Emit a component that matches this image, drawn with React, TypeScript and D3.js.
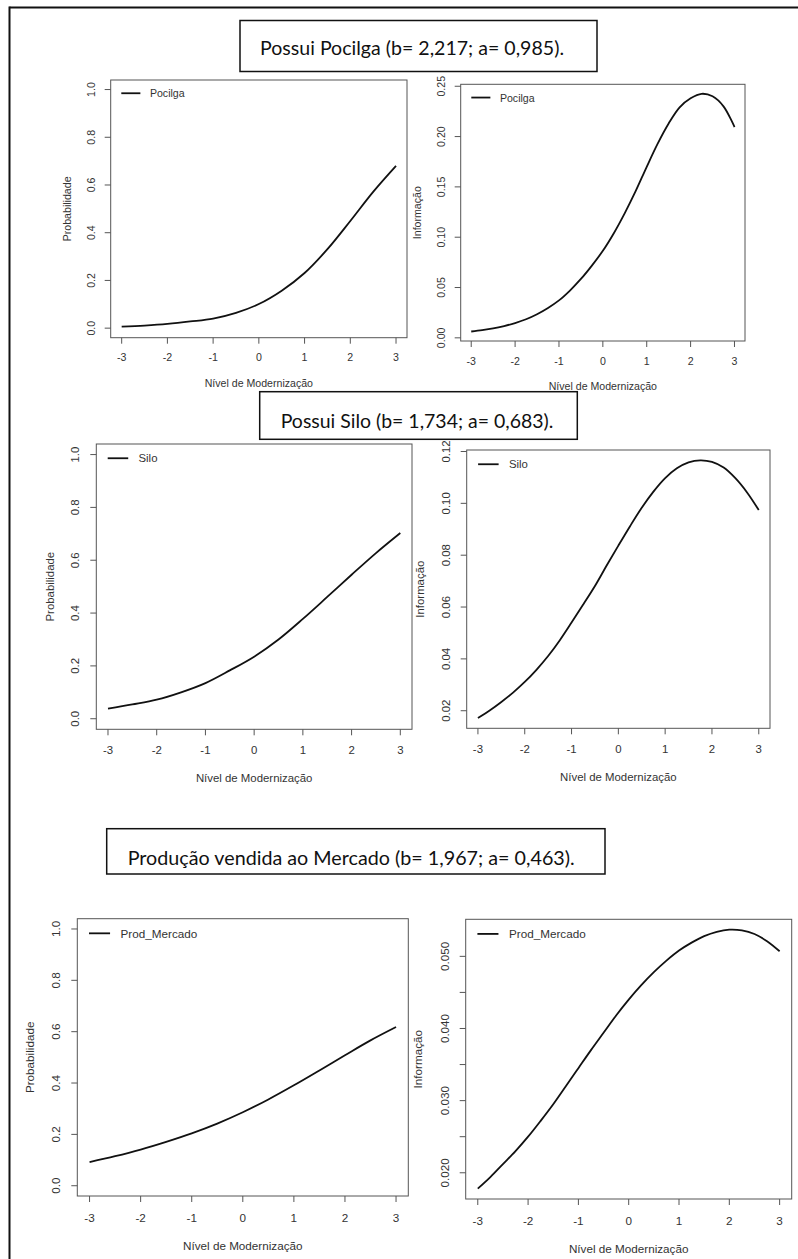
import React from "react";
import * as d3 from "d3";

// ability levels (theta)
const thetaHalf = [-3, -2.5, -2, -1.5, -1, -0.5, 0, 0.5, 1, 1.5, 2, 2.5, 3];
const thetaQuarter = [
  -3, -2.75, -2.5, -2.25, -2, -1.75, -1.5, -1.25, -1, -0.75, -0.5, -0.25, 0,
  0.25, 0.5, 0.75, 1, 1.25, 1.5, 1.75, 2, 2.25, 2.5, 2.75, 3,
];

// probability curves
const pocilgaProb = [0.006, 0.011, 0.018, 0.028, 0.04, 0.064, 0.101, 0.157, 0.231, 0.331, 0.449, 0.571, 0.68];
const siloProb = [0.038, 0.054, 0.072, 0.1, 0.135, 0.183, 0.235, 0.3, 0.378, 0.461, 0.545, 0.627, 0.703];
const mercadoProb = [0.092, 0.115, 0.141, 0.171, 0.204, 0.242, 0.286, 0.336, 0.391, 0.449, 0.508, 0.566, 0.618];

// information curves
const pocilgaInfo = [
  0.0063, 0.0076, 0.0093, 0.0117, 0.0147, 0.0185, 0.0235, 0.0297, 0.0372, 0.047, 0.0585, 0.0718, 0.0865,
  0.104, 0.124, 0.146, 0.17, 0.193, 0.213, 0.229, 0.238, 0.2425, 0.24, 0.23, 0.2095,
];
const siloInfo = [
  0.0172, 0.0201, 0.0234, 0.027, 0.0311, 0.0358, 0.0411, 0.0472, 0.054, 0.061, 0.0681, 0.076, 0.0837,
  0.0912, 0.0983, 0.1045, 0.1097, 0.1135, 0.1158, 0.1166, 0.116, 0.1138, 0.1097, 0.1042, 0.0974,
];
const mercadoInfo = [
  0.0178, 0.0194, 0.0212, 0.023, 0.025, 0.0272, 0.0295, 0.032, 0.0345, 0.037, 0.0394, 0.0418, 0.044,
  0.046, 0.0478, 0.0494, 0.0508, 0.0519, 0.0528, 0.0534, 0.0537, 0.0536, 0.0531, 0.0521, 0.0507,
];

// ticks
const xTicks = [-3, -2, -1, 0, 1, 2, 3];
const probTicks = [0, 0.2, 0.4, 0.6, 0.8, 1];
const pocilgaInfoTicks = [0, 0.05, 0.1, 0.15, 0.2, 0.25];
const siloInfoTicks = [0.02, 0.04, 0.06, 0.08, 0.1, 0.12];
const mercadoInfoTicks = [0.02, 0.025, 0.03, 0.035, 0.04, 0.045, 0.05];
const mercadoInfoLabelled = [0.02, 0.03, 0.04, 0.05];

const titles = [
  "Possui Pocilga (b= 2,217; a= 0,985).",
  "Possui Silo (b= 1,734; a= 0,683).",
  "Produção vendida ao Mercado (b= 1,967; a= 0,463).",
];

const xTitle = "Nível de Modernização";
const TEXT = "#333";

type Box = { x0: number; y0: number; x1: number; y1: number };

// R-style 4% padding of a range
const pad = (lo: number, hi: number): [number, number] => {
  const d = (hi - lo) * 0.04;
  return [lo - d, hi + d];
};

function Panel(props: {
  box: Box;
  fs: number;
  xs: number[];
  ys: number[];
  yLim: [number, number];
  yTicks: number[];
  yLabelled?: number[];
  digits: number;
  yTitle: string;
  legend: string;
}) {
  const { box, fs, xs, ys, yLim, yTicks, digits, yTitle, legend } = props;
  const labelled = props.yLabelled ?? yTicks;
  const x = d3.scaleLinear().domain(pad(-3, 3)).range([box.x0, box.x1]);
  const y = d3.scaleLinear().domain(pad(yLim[0], yLim[1])).range([box.y1, box.y0]);
  const line = d3
    .line<number>()
    .x((_, i) => x(xs[i]))
    .y((d) => y(d))
    .curve(d3.curveCatmullRom.alpha(0.5));
  const tick = 6;
  const cx = (box.x0 + box.x1) / 2;
  const cy = (box.y0 + box.y1) / 2;
  const lx0 = box.x0 + fs;
  const lx1 = lx0 + 1.8 * fs;
  const ly = box.y0 + 1.25 * fs;
  return (
    <g fontFamily="'Liberation Sans', Arial, sans-serif" fontSize={fs} fill={TEXT}>
      <rect x={box.x0} y={box.y0} width={box.x1 - box.x0} height={box.y1 - box.y0} fill="none" stroke="#555" strokeWidth={1} />
      {xTicks.map((t) => (
        <g key={"x" + t}>
          <line x1={x(t)} x2={x(t)} y1={box.y1} y2={box.y1 + tick} stroke="#555" />
          <text x={x(t)} y={box.y1 + 1.85 * fs} textAnchor="middle" dominantBaseline="central">
            {t}
          </text>
        </g>
      ))}
      {yTicks.map((t) => (
        <line key={"y" + t} x1={box.x0 - tick} x2={box.x0} y1={y(t)} y2={y(t)} stroke="#555" />
      ))}
      {labelled.map((t) => (
        <text
          key={"yl" + t}
          x={box.x0 - 1.85 * fs}
          y={y(t)}
          textAnchor="middle"
          dominantBaseline="central"
          transform={`rotate(-90, ${box.x0 - 1.85 * fs}, ${y(t)})`}
        >
          {t.toFixed(digits)}
        </text>
      ))}
      <text x={cx} y={box.y1 + 4.25 * fs} textAnchor="middle" dominantBaseline="central">
        {xTitle}
      </text>
      <text
        x={box.x0 - 4.1 * fs}
        y={cy}
        textAnchor="middle"
        dominantBaseline="central"
        transform={`rotate(-90, ${box.x0 - 4.1 * fs}, ${cy})`}
      >
        {yTitle}
      </text>
      <line x1={lx0} x2={lx1} y1={ly} y2={ly} stroke="#111" strokeWidth={1.8} />
      <text x={lx1 + 0.9 * fs} y={ly} dominantBaseline="central">
        {legend}
      </text>
      <path d={line(ys) ?? ""} fill="none" stroke="#111" strokeWidth={1.8} strokeLinejoin="round" />
    </g>
  );
}

function TitleBox(props: { box: Box; text: string; tx: number; tw: number; base: number }) {
  const { box, text, tx, tw, base } = props;
  return (
    <g>
      <rect x={box.x0} y={box.y0} width={box.x1 - box.x0} height={box.y1 - box.y0} fill="#fff" stroke="#111" strokeWidth={1.5} />
      <text
        x={tx}
        y={base}
        fontFamily="Lato, 'Open Sans', sans-serif"
        fontSize={19}
        fill="#111"
        textLength={tw}
        lengthAdjust="spacingAndGlyphs"
      >
        {text}
      </text>
    </g>
  );
}

export default function App() {
  const [pMin, pMax] = [0, 1];
  const ext = (a: number[]) => d3.extent(a) as [number, number];
  return (
    <svg
      width={798}
      height={1259}
      style={{ position: "absolute", left: 0, top: 0, background: "#fff" }}
    >
      <rect x={0} y={0} width={798} height={1259} fill="#fff" />
      {/* outer frame */}
      <line x1={9.5} x2={798} y1={7.5} y2={7.5} stroke="#111" strokeWidth={2} />
      <line x1={9.5} x2={9.5} y1={6.5} y2={1259} stroke="#111" strokeWidth={2} />

      <TitleBox box={{ x0: 240, y0: 20.5, x1: 597, y1: 71.5 }} text={titles[0]} tx={260} tw={304} base={55} />
      <Panel
        box={{ x0: 110.7, y0: 80, x1: 407, y1: 337.7 }}
        fs={10.6}
        xs={thetaHalf}
        ys={pocilgaProb}
        yLim={[pMin, pMax]}
        yTicks={probTicks}
        digits={1}
        yTitle="Probabilidade"
        legend="Pocilga"
      />
      <Panel
        box={{ x0: 460.7, y0: 84.3, x1: 745, y1: 341 }}
        fs={10.6}
        xs={thetaQuarter}
        ys={pocilgaInfo}
        yLim={ext(pocilgaInfo)}
        yTicks={pocilgaInfoTicks}
        digits={2}
        yTitle="Informação"
        legend="Pocilga"
      />

      <TitleBox box={{ x0: 259.7, y0: 391.7, x1: 577.3, y1: 439.3 }} text={titles[1]} tx={280.7} tw={272.6} base={428} />
      <Panel
        box={{ x0: 96.3, y0: 444, x1: 412, y1: 729.3 }}
        fs={11.4}
        xs={thetaHalf}
        ys={siloProb}
        yLim={[pMin, pMax]}
        yTicks={probTicks}
        digits={1}
        yTitle="Probabilidade"
        legend="Silo"
      />
      <Panel
        box={{ x0: 466.7, y0: 450, x1: 770, y1: 728.3 }}
        fs={11.4}
        xs={thetaQuarter}
        ys={siloInfo}
        yLim={ext(siloInfo)}
        yTicks={siloInfoTicks}
        digits={2}
        yTitle="Informação"
        legend="Silo"
      />

      <TitleBox box={{ x0: 106.7, y0: 828.7, x1: 605, y1: 874 }} text={titles[2]} tx={127.7} tw={447} base={864.5} />
      <Panel
        box={{ x0: 77.3, y0: 918.7, x1: 408.3, y1: 1196 }}
        fs={11.7}
        xs={thetaHalf}
        ys={mercadoProb}
        yLim={[pMin, pMax]}
        yTicks={probTicks}
        digits={1}
        yTitle="Probabilidade"
        legend="Prod_Mercado"
      />
      <Panel
        box={{ x0: 465.7, y0: 919.3, x1: 791.7, y1: 1199 }}
        fs={11.7}
        xs={thetaQuarter}
        ys={mercadoInfo}
        yLim={ext(mercadoInfo)}
        yTicks={mercadoInfoTicks}
        yLabelled={mercadoInfoLabelled}
        digits={3}
        yTitle="Informação"
        legend="Prod_Mercado"
      />
    </svg>
  );
}
